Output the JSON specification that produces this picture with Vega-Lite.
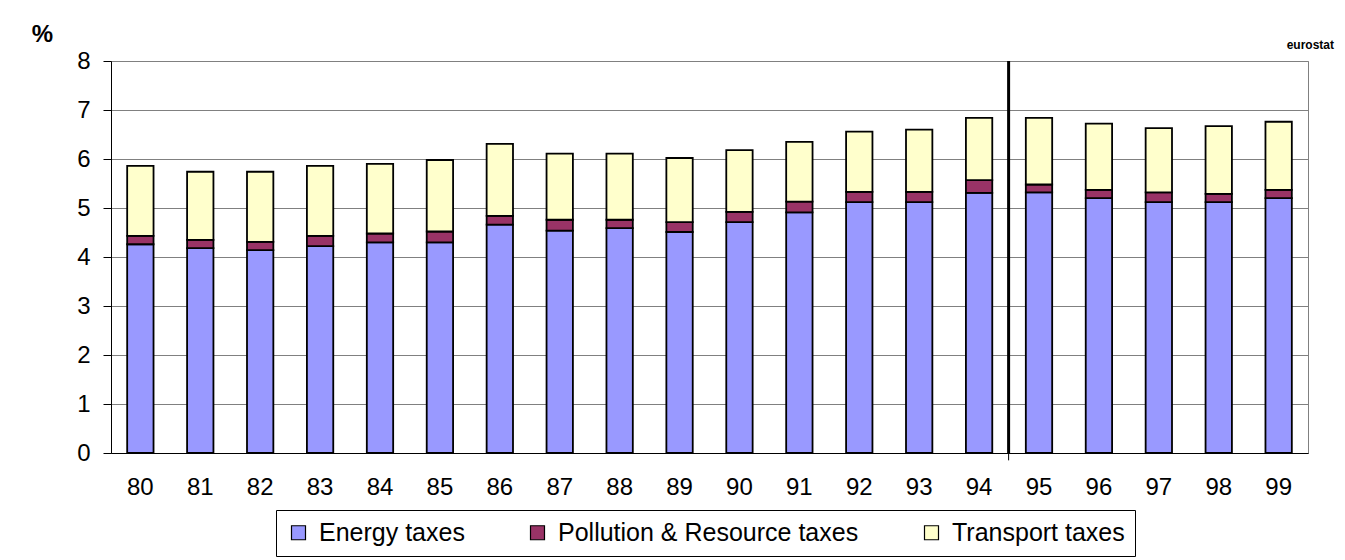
{
  "$schema": "https://vega.github.io/schema/vega-lite/v6.json",
  "width": 1197,
  "height": 392,
  "autosize": "none",
  "padding": {"left": 111, "top": 61, "right": 37, "bottom": 107},
  "background": "white",
  "title": {"text": "eurostat", "anchor": "end", "dx": 26, "dy": 41, "offset": 11, "fontSize": 12, "font": "Liberation Sans", "fontWeight": "bold", "color": "black"},
  "config": {
    "font": "Liberation Sans",
    "view": {"stroke": "#808080", "strokeWidth": 1},
    "axis": {"labelColor": "black", "labelFont": "Liberation Sans", "labelFontSize": 24, "gridColor": "#808080", "gridOpacity": 1, "domainColor": "black", "tickColor": "black"}
  },
  "datasets": {
    "taxes": [
      {"year": "80", "tax": "Energy taxes", "rank": 1, "value": 4.26},
      {"year": "80", "tax": "Pollution & Resource taxes", "rank": 2, "value": 0.17},
      {"year": "80", "tax": "Transport taxes", "rank": 3, "value": 1.43},
      {"year": "81", "tax": "Energy taxes", "rank": 1, "value": 4.18},
      {"year": "81", "tax": "Pollution & Resource taxes", "rank": 2, "value": 0.17},
      {"year": "81", "tax": "Transport taxes", "rank": 3, "value": 1.39},
      {"year": "82", "tax": "Energy taxes", "rank": 1, "value": 4.14},
      {"year": "82", "tax": "Pollution & Resource taxes", "rank": 2, "value": 0.17},
      {"year": "82", "tax": "Transport taxes", "rank": 3, "value": 1.43},
      {"year": "83", "tax": "Energy taxes", "rank": 1, "value": 4.22},
      {"year": "83", "tax": "Pollution & Resource taxes", "rank": 2, "value": 0.21},
      {"year": "83", "tax": "Transport taxes", "rank": 3, "value": 1.43},
      {"year": "84", "tax": "Energy taxes", "rank": 1, "value": 4.30},
      {"year": "84", "tax": "Pollution & Resource taxes", "rank": 2, "value": 0.18},
      {"year": "84", "tax": "Transport taxes", "rank": 3, "value": 1.42},
      {"year": "85", "tax": "Energy taxes", "rank": 1, "value": 4.30},
      {"year": "85", "tax": "Pollution & Resource taxes", "rank": 2, "value": 0.22},
      {"year": "85", "tax": "Transport taxes", "rank": 3, "value": 1.46},
      {"year": "86", "tax": "Energy taxes", "rank": 1, "value": 4.66},
      {"year": "86", "tax": "Pollution & Resource taxes", "rank": 2, "value": 0.18},
      {"year": "86", "tax": "Transport taxes", "rank": 3, "value": 1.47},
      {"year": "87", "tax": "Energy taxes", "rank": 1, "value": 4.54},
      {"year": "87", "tax": "Pollution & Resource taxes", "rank": 2, "value": 0.22},
      {"year": "87", "tax": "Transport taxes", "rank": 3, "value": 1.35},
      {"year": "88", "tax": "Energy taxes", "rank": 1, "value": 4.59},
      {"year": "88", "tax": "Pollution & Resource taxes", "rank": 2, "value": 0.17},
      {"year": "88", "tax": "Transport taxes", "rank": 3, "value": 1.35},
      {"year": "89", "tax": "Energy taxes", "rank": 1, "value": 4.51},
      {"year": "89", "tax": "Pollution & Resource taxes", "rank": 2, "value": 0.20},
      {"year": "89", "tax": "Transport taxes", "rank": 3, "value": 1.31},
      {"year": "90", "tax": "Energy taxes", "rank": 1, "value": 4.71},
      {"year": "90", "tax": "Pollution & Resource taxes", "rank": 2, "value": 0.21},
      {"year": "90", "tax": "Transport taxes", "rank": 3, "value": 1.26},
      {"year": "91", "tax": "Energy taxes", "rank": 1, "value": 4.91},
      {"year": "91", "tax": "Pollution & Resource taxes", "rank": 2, "value": 0.22},
      {"year": "91", "tax": "Transport taxes", "rank": 3, "value": 1.22},
      {"year": "92", "tax": "Energy taxes", "rank": 1, "value": 5.12},
      {"year": "92", "tax": "Pollution & Resource taxes", "rank": 2, "value": 0.21},
      {"year": "92", "tax": "Transport taxes", "rank": 3, "value": 1.23},
      {"year": "93", "tax": "Energy taxes", "rank": 1, "value": 5.12},
      {"year": "93", "tax": "Pollution & Resource taxes", "rank": 2, "value": 0.21},
      {"year": "93", "tax": "Transport taxes", "rank": 3, "value": 1.27},
      {"year": "94", "tax": "Energy taxes", "rank": 1, "value": 5.31},
      {"year": "94", "tax": "Pollution & Resource taxes", "rank": 2, "value": 0.26},
      {"year": "94", "tax": "Transport taxes", "rank": 3, "value": 1.27},
      {"year": "95", "tax": "Energy taxes", "rank": 1, "value": 5.32},
      {"year": "95", "tax": "Pollution & Resource taxes", "rank": 2, "value": 0.16},
      {"year": "95", "tax": "Transport taxes", "rank": 3, "value": 1.36},
      {"year": "96", "tax": "Energy taxes", "rank": 1, "value": 5.20},
      {"year": "96", "tax": "Pollution & Resource taxes", "rank": 2, "value": 0.17},
      {"year": "96", "tax": "Transport taxes", "rank": 3, "value": 1.35},
      {"year": "97", "tax": "Energy taxes", "rank": 1, "value": 5.12},
      {"year": "97", "tax": "Pollution & Resource taxes", "rank": 2, "value": 0.20},
      {"year": "97", "tax": "Transport taxes", "rank": 3, "value": 1.31},
      {"year": "98", "tax": "Energy taxes", "rank": 1, "value": 5.12},
      {"year": "98", "tax": "Pollution & Resource taxes", "rank": 2, "value": 0.17},
      {"year": "98", "tax": "Transport taxes", "rank": 3, "value": 1.38},
      {"year": "99", "tax": "Energy taxes", "rank": 1, "value": 5.20},
      {"year": "99", "tax": "Pollution & Resource taxes", "rank": 2, "value": 0.17},
      {"year": "99", "tax": "Transport taxes", "rank": 3, "value": 1.39}
    ],
    "divider": [{"year": "95", "top": 8, "bottom": 0, "tick": -0.15}]
  },
  "layer": [
    {
      "data": {"name": "taxes"},
      "mark": {"type": "bar", "stroke": "black", "strokeWidth": 1.8},
      "encoding": {
        "x": {
          "field": "year", "type": "ordinal",
          "scale": {"paddingInner": 0.56, "paddingOuter": 0.27},
          "axis": {"title": null, "labelAngle": 0, "ticks": false, "labelPadding": 22, "grid": false}
        },
        "y": {
          "field": "value", "type": "quantitative", "stack": "zero",
          "scale": {"domain": [0, 8], "nice": false},
          "axis": {"title": "%", "titleAngle": 0, "titleX": -69, "titleY": -27, "titleAlign": "center", "titleBaseline": "middle", "titleFontSize": 24, "titleFontWeight": "bold", "titleFont": "Liberation Sans", "titleColor": "black", "tickCount": 8, "tickSize": 8, "labelPadding": 13, "grid": true}
        },
        "color": {
          "field": "tax", "type": "nominal",
          "scale": {"domain": ["Energy taxes", "Pollution & Resource taxes", "Transport taxes"], "range": ["#9999FF", "#993366", "#FFFFCC"]},
          "legend": {
            "title": null, "orient": "none", "legendX": 165, "legendY": 449, "direction": "horizontal",
            "strokeColor": "black", "fillColor": "white", "padding": 10,
            "symbolType": "square", "symbolSize": 196, "symbolStrokeColor": "black", "symbolStrokeWidth": 1.2,
            "labelFontSize": 25, "labelFont": "Liberation Sans", "labelColor": "black", "labelOffset": 8, "labelLimit": 500, "columnPadding": 60
          }
        },
        "order": {"field": "rank", "type": "quantitative"}
      }
    },
    {
      "data": {"name": "divider"},
      "mark": {"type": "rule", "color": "black", "strokeWidth": 3},
      "encoding": {
        "x": {"field": "year", "type": "ordinal", "bandPosition": -0.653},
        "y": {"field": "top", "type": "quantitative"},
        "y2": {"field": "bottom"}
      }
    },
    {
      "data": {"name": "divider"},
      "mark": {"type": "rule", "color": "black", "strokeWidth": 1},
      "encoding": {
        "x": {"field": "year", "type": "ordinal", "bandPosition": -0.653},
        "y": {"field": "bottom", "type": "quantitative"},
        "y2": {"field": "tick"}
      }
    }
  ]
}
